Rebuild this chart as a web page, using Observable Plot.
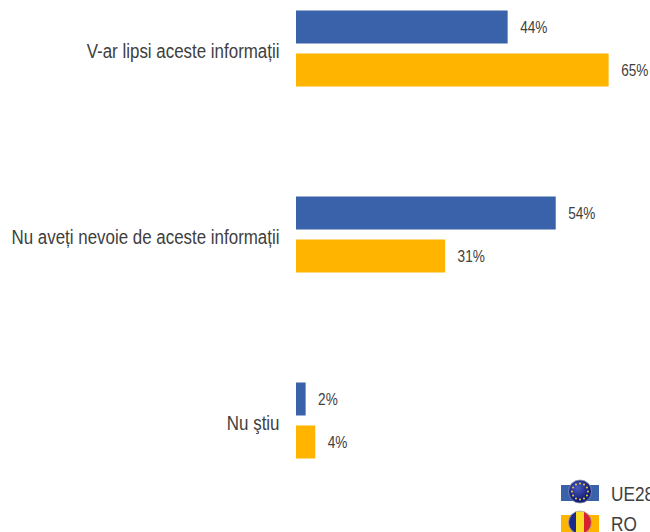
<!DOCTYPE html>
<html><head><meta charset="utf-8">
<script src="https://cdn.jsdelivr.net/npm/d3@7"></script>
<script src="https://cdn.jsdelivr.net/npm/@observablehq/plot@0.6"></script>
<style>
html,body{margin:0;padding:0;background:#fff;overflow:hidden;width:650px;height:532px}
#wrap{position:relative;width:650px;height:532px;overflow:hidden}
#legend{position:absolute;left:0;top:0}
</style></head><body><div id="wrap"></div>
<script>
const categories = ["V-ar lipsi aceste informații","Nu aveți nevoie de aceste informații","Nu ştiu"];
const series = ["UE28","RO"];
const ue28 = [44,54,2];
const ro = [65,31,4];
const colors = ["#3a62aa","#ffb400"];
const rows = categories.flatMap((c,i)=>[
  {cat:c,s:series[0],v:ue28[i]},
  {cat:c,s:series[1],v:ro[i]}
]);
const font = "'Liberation Sans',Arial,sans-serif";
const plot = Plot.plot({
  width:650,height:532,
  marginLeft:296,marginRight:0,marginTop:4.5,marginBottom:68,
  style:{fontFamily:font,background:"#fff"},
  x:{domain:[0,73.6],axis:null},
  y:{domain:series,axis:null,padding:0.233,paddingOuter:0.116},
  fy:{domain:categories,padding:0.539,paddingOuter:0,axis:null},
  color:{domain:series,range:colors},
  marks:[
    Plot.barX(rows,{fy:"cat",y:"s",x:"v",fill:"s"}),
    Plot.text(rows,{fy:"cat",y:"s",x:"v",text:d=>d.v+"%",dx:12,dy:0.5,textAnchor:"start",fontSize:17,fill:"#404040",className:"squeeze-val"}),
    Plot.axisFy({anchor:"left",tickSize:0,tickPadding:17,dy:3.5,label:null,fontSize:20,color:"#404040",lineWidth:40,textOverflow:null,className:"squeeze-cat"})
  ]
});
document.getElementById("wrap").appendChild(plot);
const squeeze=(sel,k)=>plot.querySelectorAll(sel).forEach(t=>{
  t.setAttribute("textLength",t.getComputedTextLength()*k);
  t.setAttribute("lengthAdjust","spacingAndGlyphs");
});
squeeze(".squeeze-val text",0.8);
squeeze(".squeeze-cat text",0.846);
// legend overlay
const ns="http://www.w3.org/2000/svg";
const lg=d3.select("#wrap").append("svg").attr("id","legend").attr("width",650).attr("height",532).attr("xmlns",ns);
const defs=lg.append("defs");
const g1=defs.append("radialGradient").attr("id","g1").attr("cx","40%").attr("cy","35%");
g1.append("stop").attr("offset","0%").attr("stop-color","#4a5ac0");
g1.append("stop").attr("offset","100%").attr("stop-color","#14207a");
lg.append("rect").attr("x",561).attr("y",485).attr("width",38).attr("height",16).attr("fill",colors[0]);
lg.append("circle").attr("cx",580).attr("cy",491.5).attr("r",11.5).attr("fill","url(#g1)").attr("stroke","#8a8fb0").attr("stroke-width",.8);
d3.range(12).forEach(i=>{const a=i*Math.PI/6;
  lg.append("circle").attr("cx",580+8*Math.cos(a)).attr("cy",491.5+8*Math.sin(a)).attr("r",1).attr("fill","#e8d23a");});
lg.append("rect").attr("x",561).attr("y",515).attr("width",38).attr("height",17).attr("fill",colors[1]);
const cp=defs.append("clipPath").attr("id","c");
cp.append("circle").attr("cx",580).attr("cy",522.5).attr("r",11.5);
const ro_g=lg.append("g").attr("clip-path","url(#c)");
[["#1c2a8c",568],["#fbdc24",576],["#d8232f",584]].forEach(([f,x])=>ro_g.append("rect").attr("x",x).attr("y",510).attr("width",8).attr("height",24).attr("fill",f));
lg.append("circle").attr("cx",580).attr("cy",522.5).attr("r",11.5).attr("fill","none").attr("stroke","#aaa").attr("stroke-width",.8);
series.forEach((s,i)=>{
  const t=lg.append("text").attr("x",611).attr("y",[500.5,531][i]).attr("font-family",font).attr("font-size",20).attr("fill","#404040").text(s);
  t.attr("textLength",t.node().getComputedTextLength()*0.86).attr("lengthAdjust","spacingAndGlyphs");
});
</script></body></html>
